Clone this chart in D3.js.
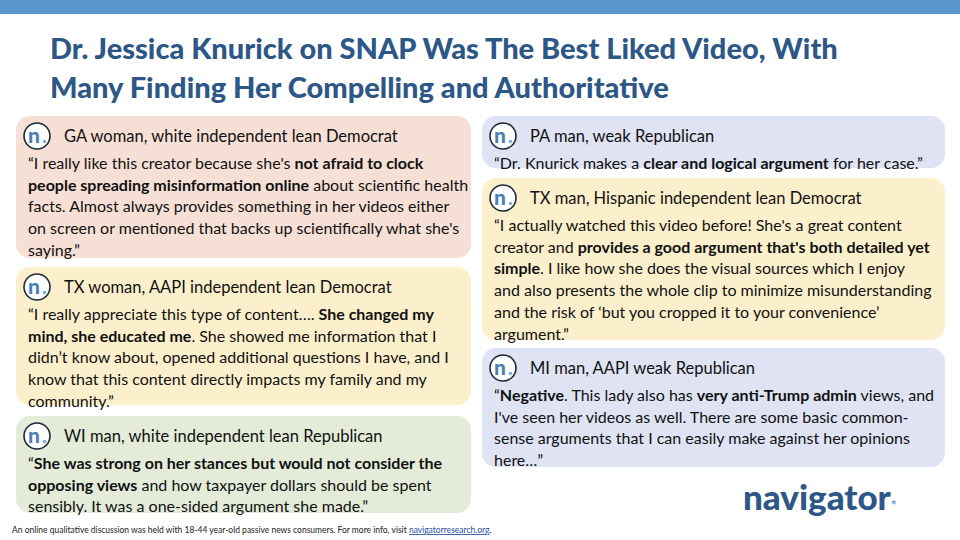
<!DOCTYPE html>
<meta charset="utf-8">
<script src="https://cdn.jsdelivr.net/npm/d3@7"></script>
<style>
body{margin:0;background:#fff}
text{font-family:Lato,"Open Sans",sans-serif}
</style>
<body>
<div id="chart"></div>
<script>
// slide content
var titleLines = ["Dr. Jessica Knurick on SNAP Was The Best Liked Video, With",
                  "Many Finding Her Compelling and Authoritative"];
var speakers = ["GA woman, white independent lean Democrat",
                "TX woman, AAPI independent lean Democrat",
                "WI man, white independent lean Republican",
                "PA man, weak Republican",
                "TX man, Hispanic independent lean Democrat",
                "MI man, AAPI weak Republican"];
// **...** marks bold runs
var quotes = [
  ["“I really like this creator because she's **not afraid to clock**",
   "**people spreading misinformation online** about scientific health",
   "facts. Almost always provides something in her videos either",
   "on screen or mentioned that backs up scientifically what she's",
   "saying.”"],
  ["“I really appreciate this type of content…. **She changed my**",
   "**mind, she educated me**. She showed me information that I",
   "didn’t know about, opened additional questions I have, and I",
   "know that this content directly impacts my family and my",
   "community.”"],
  ["“**She was strong on her stances but would not consider the**",
   "**opposing views** and how taxpayer dollars should be spent",
   "sensibly. It was a one-sided argument she made.”"],
  ["“Dr. Knurick makes a **clear and logical argument** for her case.”"],
  ["“I actually watched this video before! She's a great content",
   "creator and **provides a good argument that's both detailed yet**",
   "**simple**. I like how she does the visual sources which I enjoy",
   "and also presents the whole clip to minimize misunderstanding",
   "and the risk of ‘but you cropped it to your convenience’",
   "argument.”"],
  ["“**Negative**. This lady also has **very anti-Trump admin** views, and",
   "I've seen her videos as well. There are some basic common-",
   "sense arguments that I can easily make against her opinions",
   "here…”"]
];
var footnote = "An online qualitative discussion was held with 18-44 year-old passive news consumers. For more info, visit ";

// layout (separate from content)
var boxX = [16, 16, 16, 482, 482, 482];
var boxY = [116, 267, 416, 116, 178, 348];
var boxW = [455, 455, 455, 463, 463, 463];
var boxH = [142, 138, 97, 52, 162, 119];
var boxFill = ["#f6e0d6", "#fcf0cc", "#e4ecd9", "#dfe3f3", "#fcf0cc", "#dfe3f3"];

var W = 960, H = 540;
var svg = d3.select("#chart").append("svg").attr("width", W).attr("height", H);

svg.append("rect").attr("width", W).attr("height", 14).attr("fill", "#5b96cc");

svg.selectAll(".title").data(titleLines).enter().append("text")
  .attr("x", 50).attr("y", function(d, i){ return 59 + i*39; })
  .attr("font-size", 29).attr("font-weight", 900).attr("fill", "#2c5787")
  .text(function(d){ return d; });

var cards = svg.selectAll(".card").data(d3.range(speakers.length)).enter().append("g")
  .attr("transform", function(i){ return "translate(" + boxX[i] + "," + boxY[i] + ")"; });

cards.append("rect").attr("width", function(i){ return boxW[i]; })
  .attr("height", function(i){ return boxH[i]; }).attr("rx", 14)
  .attr("fill", function(i){ return boxFill[i]; });

// icon
cards.append("circle").attr("cx", 21).attr("cy", 20).attr("r", 13)
  .attr("fill", "#fff").attr("stroke", "#1d2a3a").attr("stroke-width", 1.6);
cards.append("text").attr("x", 12).attr("y", 27).attr("font-size", 21).attr("font-weight", 900)
  .attr("fill", "#4a7fb8").text("n");
cards.append("circle").attr("cx", 28.5).attr("cy", 25.5).attr("r", 1.8).attr("fill", "#7fb0e0");

cards.append("text").attr("x", 48).attr("y", 26).attr("font-size", 16.5).attr("fill", "#111")
  .text(function(i){ return speakers[i]; });

cards.each(function(i){
  var g = d3.select(this);
  quotes[i].forEach(function(line, k){
    var t = g.append("text").attr("x", 12).attr("y", 53 + k*21.7)
      .attr("font-size", 16).attr("fill", "#111");
    line.split("**").forEach(function(seg, s){
      if (!seg) return;
      t.append("tspan").attr("font-weight", s % 2 ? 700 : 400).text(seg);
    });
  });
});

// logo
var logo = svg.append("text").attr("x", 743).attr("y", 510).attr("font-size", 35)
  .attr("font-weight", 900).attr("fill", "#2c5787");
logo.append("tspan").text("navigator");
logo.append("tspan").attr("fill", "#6aa3d8").attr("font-size", 14).text("*");

var fn = svg.append("text").attr("x", 12).attr("y", 533).attr("font-size", 8.5).attr("fill", "#222");
fn.append("tspan").text(footnote);
fn.append("tspan").attr("fill", "#1f4fa0").attr("text-decoration", "underline").text("navigatorresearch.org");
fn.append("tspan").text(".");
</script>
</body>
